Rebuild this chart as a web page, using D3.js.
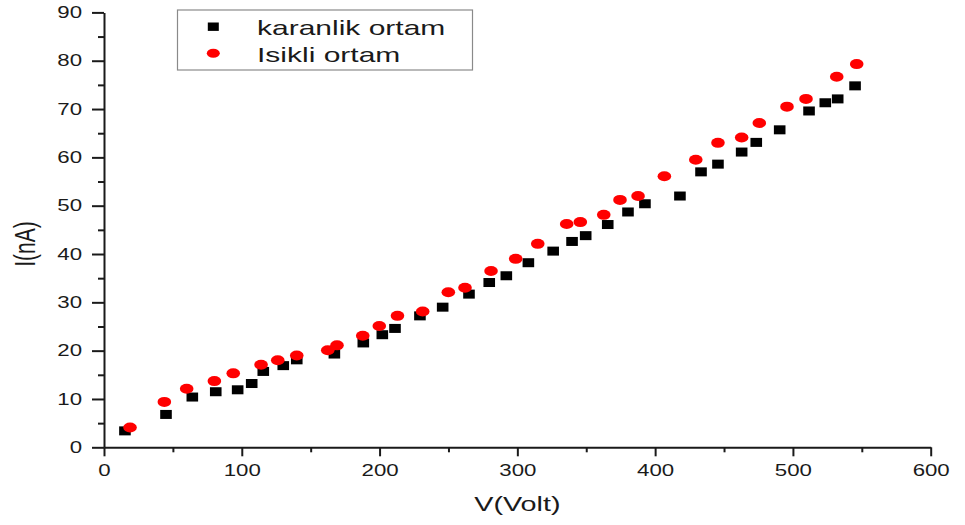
<!DOCTYPE html>
<html>
<head>
<meta charset="utf-8">
<script src="https://cdn.jsdelivr.net/npm/d3@7"></script>
<style>
  html, body { margin: 0; padding: 0; background: #fff; }
  svg { display: block; }
  text { font-family: "Liberation Sans", Arial, sans-serif; fill: #1a1a1a; }
</style>
</head>
<body>
<svg id="chart" width="965" height="525"></svg>
<script>
// Current vs. voltage, measured in the dark and under illumination
const darkV = [15.2, 45.0, 64.1, 81.1, 97.0, 107.2, 115.6, 130.1, 139.9, 167.2, 188.2, 202.0,
  211.2, 229.3, 245.8, 264.9, 279.6, 292.0, 308.0, 326.0, 339.7, 349.6, 365.6, 380.3,
  392.6, 418.0, 433.3, 445.6, 462.8, 473.4, 490.4, 511.7, 523.5, 532.5, 545.1];
const darkI = [3.4, 6.8, 10.4, 11.5, 11.9, 13.2, 15.7, 16.9, 18.1, 19.3, 21.6, 23.3,
  24.6, 27.2, 29.0, 31.7, 34.1, 35.5, 38.2, 40.6, 42.6, 43.8, 46.1, 48.7,
  50.4, 52.0, 57.0, 58.6, 61.1, 63.1, 65.7, 69.6, 71.3, 72.1, 74.8];

const lightV = [18.9, 43.8, 60.0, 80.1, 93.8, 114.0, 126.1, 139.9, 162.4, 169.1, 187.8, 199.8,
  213.0, 231.3, 249.9, 262.0, 280.9, 298.8, 314.8, 335.8, 345.7, 362.7, 374.5, 387.6,
  406.7, 429.5, 445.6, 462.8, 475.6, 495.7, 509.5, 531.8, 546.3];
const lightI = [4.1, 9.4, 12.1, 13.7, 15.3, 17.1, 18.0, 19.0, 20.1, 21.1, 23.1, 25.1,
  27.2, 28.1, 32.1, 33.0, 36.5, 39.0, 42.1, 46.2, 46.6, 48.1, 51.2, 52.0,
  56.1, 59.5, 63.0, 64.1, 67.1, 70.5, 72.1, 76.7, 79.3];

const xTicks = [0, 100, 200, 300, 400, 500, 600];
const xMinorTicks = [50, 150, 250, 350, 450, 550];
const yTicks = [0, 10, 20, 30, 40, 50, 60, 70, 80, 90];
const yMinorTicks = [5, 15, 25, 35, 45, 55, 65, 75, 85];
const seriesNames = ["karanlik ortam", "Isikli ortam"];
const xTitle = "V(Volt)";
const yTitle = "I(nA)";

const svg = d3.select("#chart");
const x = d3.scaleLinear().domain([0, 600]).range([104, 930.7]);
const y = d3.scaleLinear().domain([0, 90]).range([447.3, 12.4]);

const ink = "#1a1a1a";
const SX = 1.39; // wide lettering

// ---- x axis ----
const gx = svg.append("g").attr("transform", `translate(0,${y(0)})`);
gx.call(d3.axisBottom(x).tickValues(xTicks).tickSize(9).tickSizeOuter(0)
  .tickPadding(8).tickFormat(d3.format("d")));
svg.append("g").attr("class", "minor").attr("transform", `translate(0,${y(0)})`)
  .call(d3.axisBottom(x).tickValues(xMinorTicks).tickSize(5).tickFormat(""));

// ---- y axis ----
const gy = svg.append("g").attr("transform", `translate(${x(0)},0)`);
gy.call(d3.axisLeft(y).tickValues(yTicks).tickSize(12).tickSizeOuter(0)
  .tickPadding(10).tickFormat(d3.format("d")));
svg.append("g").attr("class", "minor").attr("transform", `translate(${x(0)},0)`)
  .call(d3.axisLeft(y).tickValues(yMinorTicks).tickSize(6).tickFormat(""));

svg.selectAll(".minor .domain").remove();
svg.selectAll(".domain").attr("stroke", ink).attr("stroke-width", 2);
svg.selectAll(".tick line").attr("stroke", ink).attr("stroke-width", 2);
svg.selectAll(".tick text").attr("font-size", 16).attr("fill", ink)
  .style("font-family", '"Liberation Sans", Arial, sans-serif');
gx.selectAll(".tick text").attr("transform", `scale(${SX},1)`);
gy.selectAll(".tick text").attr("x", -22 / SX).attr("transform", `scale(${SX},1)`);

// ---- axis titles ----
svg.append("text")
  .attr("transform", `translate(${(x(0) + x(600)) / 2},511) scale(1.37,1)`)
  .attr("text-anchor", "middle").attr("font-size", 21).text(xTitle);
svg.append("text")
  .attr("transform", `translate(35,244) scale(1.37,1) rotate(-90)`)
  .attr("text-anchor", "middle").attr("font-size", 21).text(yTitle);

// ---- data ----
const darkData = darkV.map((v, i) => ({ v, a: darkI[i] }));
const lightData = lightV.map((v, i) => ({ v, a: lightI[i] }));

svg.append("g").selectAll("rect").data(darkData).join("rect")
  .attr("x", d => x(d.v) - 5.8).attr("y", d => y(d.a) - 4.5)
  .attr("width", 11.6).attr("height", 9).attr("fill", "#000");

svg.append("g").selectAll("ellipse").data(lightData).join("ellipse")
  .attr("cx", d => x(d.v)).attr("cy", d => y(d.a))
  .attr("rx", 6.8).attr("ry", 5).attr("fill", "#ff0000");

// ---- legend ----
const lg = svg.append("g");
lg.append("rect").attr("x", 177.5).attr("y", 10).attr("width", 295).attr("height", 60)
  .attr("fill", "#fff").attr("stroke", "#8a8a8a").attr("stroke-width", 1.2);
lg.append("rect").attr("x", 213.3 - 5.5).attr("y", 26.7 - 4.2)
  .attr("width", 11).attr("height", 8.4).attr("fill", "#000");
lg.append("ellipse").attr("cx", 213.3).attr("cy", 53.3).attr("rx", 6.5).attr("ry", 4.5)
  .attr("fill", "#ff0000");
lg.append("text").attr("transform", "translate(257,35) scale(1.5,1)")
  .attr("font-size", 20).text(seriesNames[0]);
lg.append("text").attr("transform", "translate(257,61.5) scale(1.5,1)")
  .attr("font-size", 20).text(seriesNames[1]);
</script>
</body>
</html>
